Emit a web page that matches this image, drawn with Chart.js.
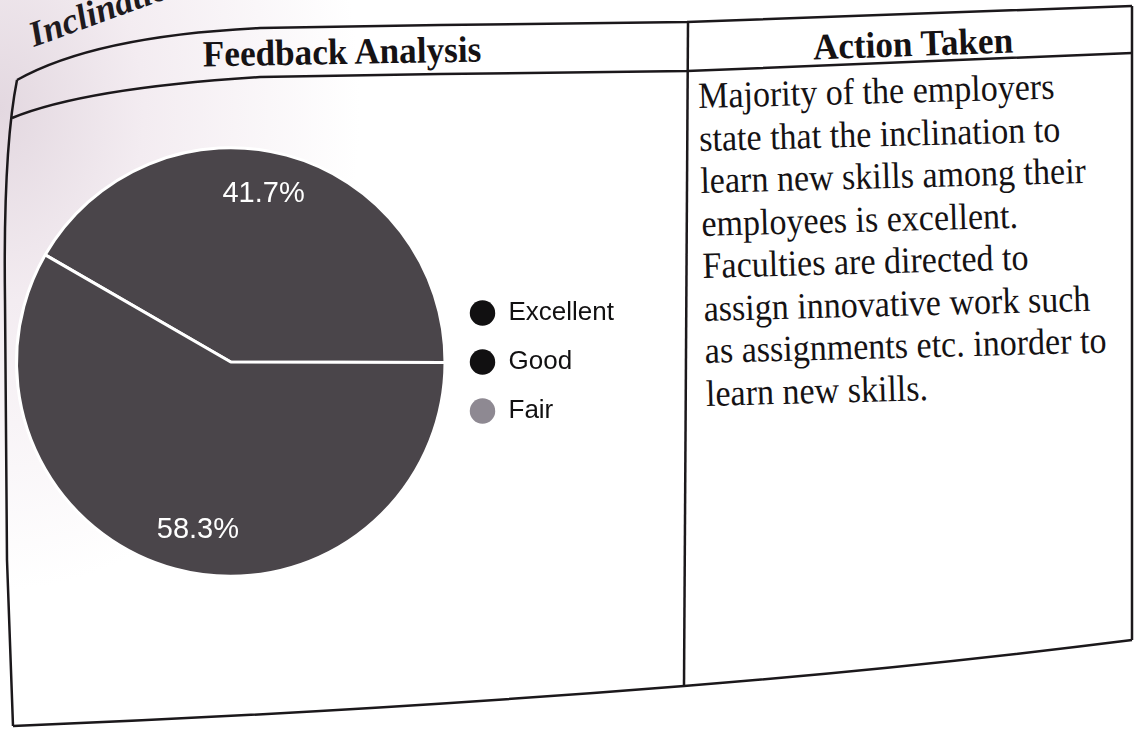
<!DOCTYPE html>
<html>
<head>
<meta charset="utf-8">
<script src="https://cdn.jsdelivr.net/npm/chart.js@4.4.1/dist/chart.umd.min.js"></script>
<style>
  html, body { margin: 0; padding: 0; }
  body {
    width: 1134px; height: 729px; overflow: hidden; position: relative;
    background: radial-gradient(ellipse 360px 480px at 0px 110px, #e3d8e0 0%, #f3ecf1 40%, #ffffff 100%);
    font-family: "Liberation Serif", "Times New Roman", serif;
    color: #151214;
  }
  #frame { position: absolute; left: 0; top: 0; z-index: 3; }
  .head { position: absolute; font-weight: bold; font-size: 37px; line-height: 37px; white-space: nowrap; }
  #headLeft { left: 190px; top: 33px; width: 304px; text-align: center; transform: rotate(-1deg) scaleX(0.95); }
  #headRight { left: 780px; top: 25px; width: 266px; text-align: center; transform: rotate(-2deg) scaleX(0.95); }
  #corner {
    position: absolute; left: 34px; top: 17px; font-size: 36px; line-height: 36px;
    font-weight: bold; font-style: italic; transform: rotate(-20deg); transform-origin: 0 30px;
    color: #1e1a1e; white-space: nowrap;
  }
  #action {
    position: absolute; left: 702px; top: 75px; font-size: 37px; line-height: 42.5px;
    white-space: pre; transform: rotate(-1.5deg) scaleX(0.92); transform-origin: 0 50%;
  }
  #pieBox { position: absolute; left: 0px; top: 120px; width: 624px; height: 484px; }
</style>
</head>
<body>
<div id="corner">Inclination</div>
<div class="head" id="headLeft">Feedback Analysis</div>
<div class="head" id="headRight">Action Taken</div>
<div id="action"></div>
<div id="pieBox"><canvas id="pie"></canvas></div>
<svg id="frame" width="1134" height="729">
  <g fill="none" stroke="#1b181b" stroke-width="2.5">
    <path d="M17,80 Q95,36 260,28 L440,25 L687,22 L1132,6"/>
    <path d="M12,118 Q85,88 260,77 L440,74 L687,71 L1132,53"/>
    <path d="M17,80 Q3,150 5,300 L7,560 L13,726"/>
    <path d="M13,726 Q360,712 684,686 Q910,668 1132,640"/>
    <path d="M688,22 L684,686"/>
    <path d="M1132,6 L1132,640"/>
  </g>
</svg>
<script>
var categories = ["Excellent", "Good", "Fair"];
var shares = [41.7, 58.3, 0];
var sliceColors = ["#4a454a", "#4a454a", "#8e8992"];
var legendColors = ["#111011", "#111011", "#8e8992"];
var actionLines = [
    "Majority of the employers",
    "state that the inclination to",
    "learn new skills among their",
    "employees is excellent.",
    "Faculties are directed to",
    "assign innovative work such",
    "as assignments etc. inorder to",
    "learn new skills."
];

document.getElementById("action").textContent = actionLines.join("\n");

// percent labels inside the slices
var pctLabels = {
    id: 'pctLabels',
    afterDatasetsDraw: function(chart) {
        var ctx = chart.ctx;
        var meta = chart.getDatasetMeta(0);
        ctx.save();
        ctx.font = '29px "Liberation Sans", Arial, sans-serif';
        ctx.fillStyle = '#ffffff';
        ctx.textAlign = 'center';
        ctx.textBaseline = 'middle';
        meta.data.forEach(function(arc, i) {
            if (!shares[i]) return;
            var p = arc.getProps(['x', 'y', 'startAngle', 'endAngle', 'outerRadius'], true);
            var mid = (p.startAngle + p.endAngle) / 2 - 0.07;
            var r = p.outerRadius * 0.8;
            ctx.fillText(shares[i].toFixed(1) + '%', p.x + Math.cos(mid) * r, p.y + Math.sin(mid) * r);
        });
        ctx.restore();
    }
};

function makePieChart() {
    var ctx = document.getElementById("pie").getContext('2d');
    var pie = new Chart(ctx, {
        type: 'pie',
        data: {
            labels: categories,
            datasets: [{
                data: shares,
                backgroundColor: sliceColors,
                borderColor: "#ffffff",
                borderWidth: 3
            }]
        },
        options: {
            responsive: true,
            maintainAspectRatio: false,
            animation: false,
            rotation: -60,
            layout: { padding: { left: 15, top: 22, bottom: 22, right: 0 } },
            plugins: {
                tooltip: { enabled: false },
                legend: {
                    position: 'right',
                    labels: {
                        usePointStyle: true,
                        pointStyle: 'circle',
                        boxWidth: 26,
                        boxHeight: 18,
                        padding: 23,
                        color: '#111011',
                        font: { family: '"Liberation Sans", Arial, sans-serif', size: 26 },
                        generateLabels: function(chart) {
                            var items = Chart.overrides.pie.plugins.legend.labels.generateLabels(chart);
                            items.forEach(function(it, i) {
                                it.fillStyle = legendColors[i];
                                it.strokeStyle = legendColors[i];
                                it.lineWidth = 0;
                                it.hidden = false;
                            });
                            return items;
                        }
                    }
                }
            }
        },
        plugins: [pctLabels]
    });
    return pie;
}

makePieChart();
</script>
</body>
</html>
